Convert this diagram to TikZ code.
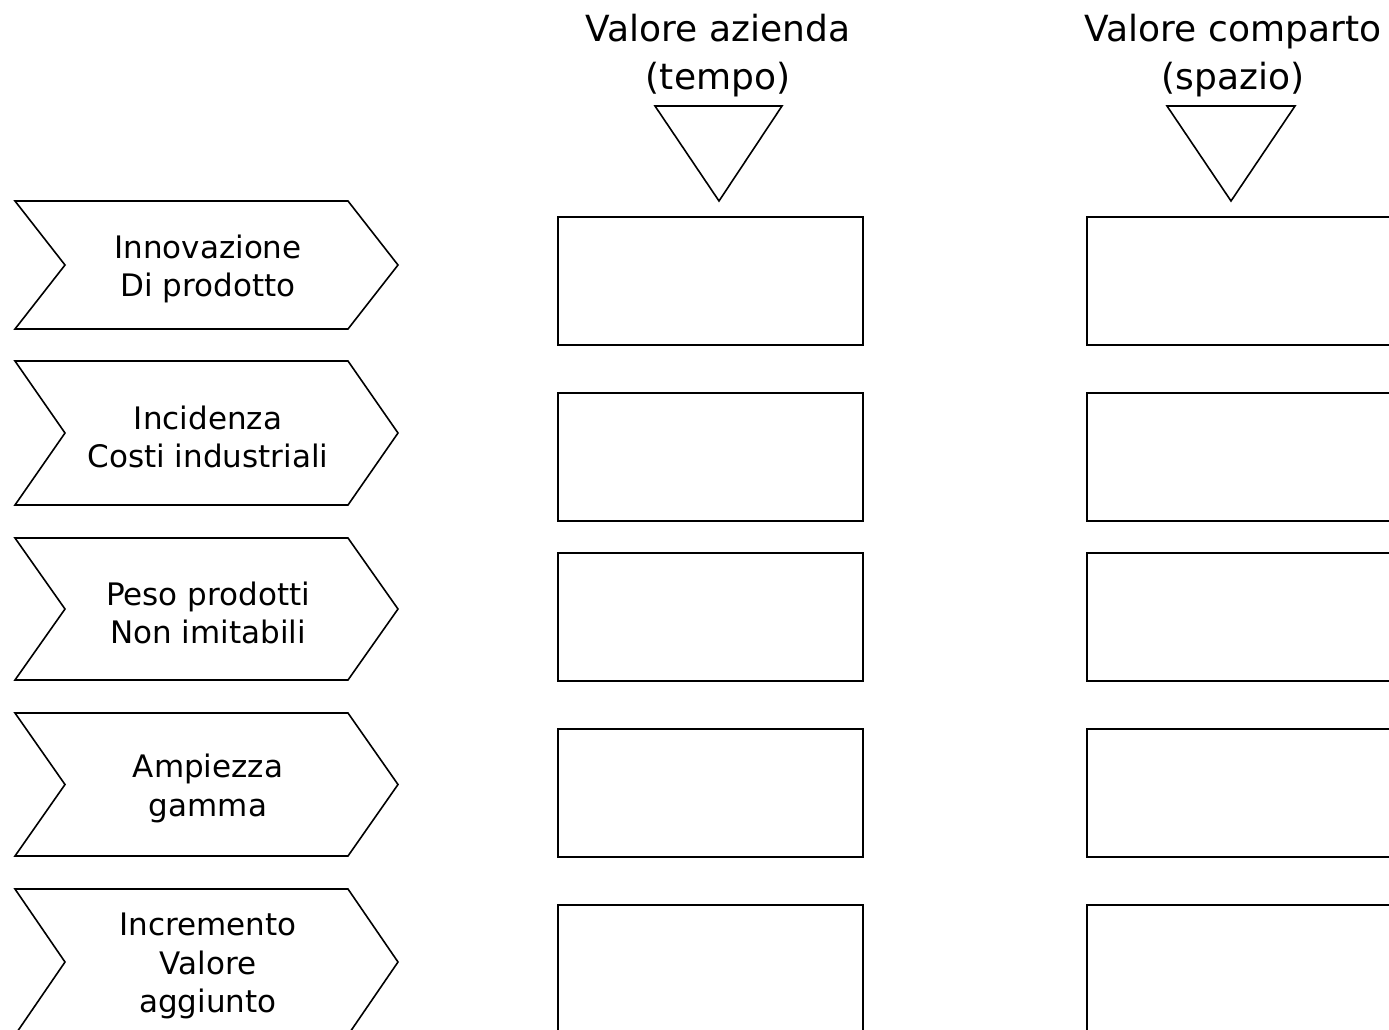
\documentclass[tikz,border=0pt]{standalone}
\usepackage{fontspec}
\setmainfont{DejaVu Sans}
\begin{document}
\begin{tikzpicture}[x=1pt,y=-1pt,
  outl/.style={draw=black,line width=1.6pt,line join=miter},
  box/.style={outl,rectangle,inner sep=0pt,minimum width=305pt,minimum height=128pt},
  lbl/.style={font=\fontsize{31}{38.5}\selectfont,align=center,inner sep=0pt},
  ttl/.style={font=\fontsize{36}{48}\selectfont,align=center,inner sep=0pt}]
\useasboundingbox (0,0) rectangle (1389,1029);
\clip (0,0) rectangle (1389,1029);
\fill[white] (0,0) rectangle (1389,1029);

% chevrons with labels
\foreach \t/\b/\n/\txt in {
  201/329/c1/{Innovazione\\Di prodotto},
  361/505/c2/{Incidenza\\Costi industriali},
  538/680/c3/{Peso prodotti\\Non imitabili},
  713/856/c4/{Ampiezza\\gamma},
  889/1035/c5/{Incremento\\Valore\\aggiunto}}{
  \draw[outl] (15,\t) -- (348,\t) -- (398,{(\t+\b)/2}) -- (348,\b) -- (15,\b) -- (65,{(\t+\b)/2}) -- cycle;
  \node[lbl] (\n) at (208,{(\t+\b)/2+4}) {\txt};
}

% boxes
\foreach \y/\i in {281/1,457/2,617/3,793/4,969/5}{
  \node[box] (a\i) at (710.5,\y) {};
  \node[box] (b\i) at (1239.5,\y) {};
}

% titles
\node[ttl] (ta) at (718,56) {Valore azienda\\(tempo)};
\node[ttl] (tb) at (1233,56) {Valore comparto\\(spazio)};

% triangles
\coordinate (ta1) at (655,106);
\coordinate (ta2) at (782,106);
\coordinate (ta3) at (719,201);
\coordinate (tb1) at (1167,106);
\coordinate (tb2) at (1295,106);
\coordinate (tb3) at (1231,201);
\draw[outl] (ta1) -- (ta2) -- (ta3) -- cycle;
\draw[outl] (tb1) -- (tb2) -- (tb3) -- cycle;
\end{tikzpicture}
\end{document}
